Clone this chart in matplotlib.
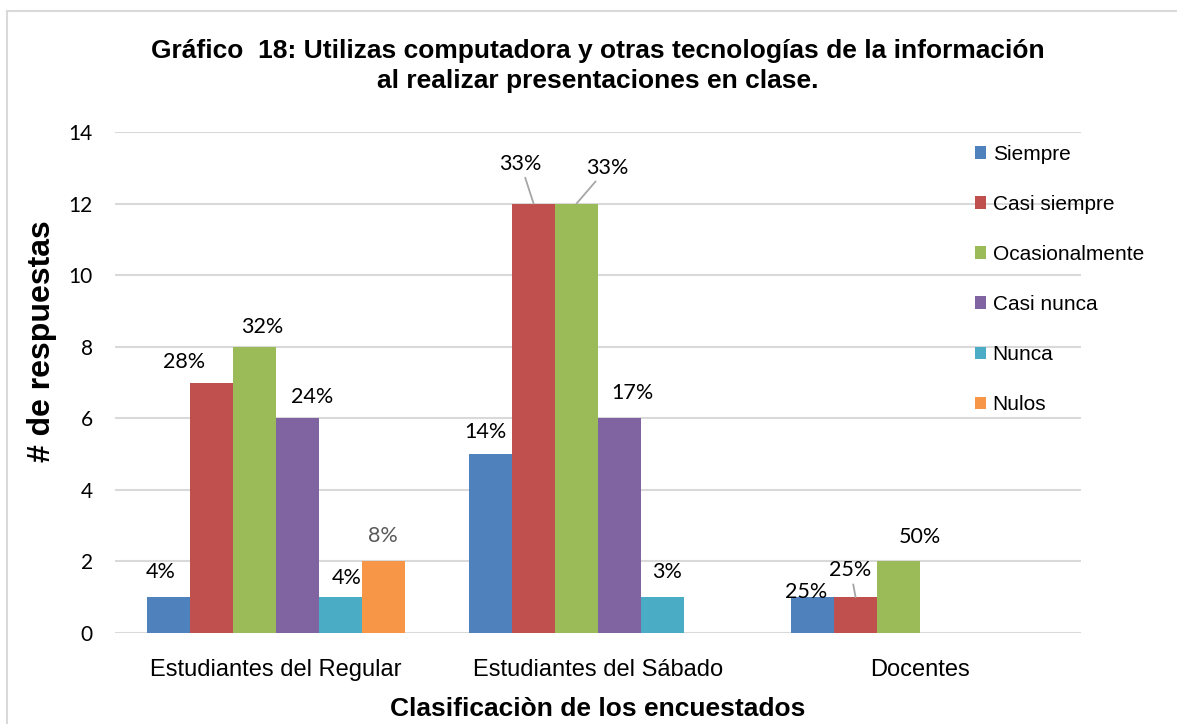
import matplotlib
matplotlib.use("Agg")
import matplotlib.pyplot as plt
import numpy as np
from matplotlib.lines import Line2D

categories = ["Estudiantes del Regular", "Estudiantes del Sábado", "Docentes"]
series = ["Siempre", "Casi siempre", "Ocasionalmente", "Casi nunca", "Nunca", "Nulos"]
values = {
    "Siempre":        [1, 5, 1],
    "Casi siempre":   [7, 12, 1],
    "Ocasionalmente": [8, 12, 2],
    "Casi nunca":     [6, 6, 0],
    "Nunca":          [1, 1, 0],
    "Nulos":          [2, 0, 0],
}
pct_labels = {
    "Siempre":        ["4%", "14%", "25%"],
    "Casi siempre":   ["28%", "33%", "25%"],
    "Ocasionalmente": ["32%", "33%", "50%"],
    "Casi nunca":     ["24%", "17%", None],
    "Nunca":          ["4%", "3%", None],
    "Nulos":          ["8%", None, None],
}
colors = ["#4F81BD", "#C0504D", "#9BBB59", "#8064A2", "#4BACC6", "#F79646"]
yticks = [0, 2, 4, 6, 8, 10, 12, 14]

# label offsets in pixels (dx, dy) from bar-top centre; leader line flag
label_off = {
    "Siempre":        [(-8, 25, False), (-5, 22, False), (-7, 5, False)],
    "Casi siempre":   [(-28, 21, False), (-13, 40, True), (-5, 27, True)],
    "Ocasionalmente": [(8, 20, False), (31, 36, True), (21, 24, False)],
    "Casi nunca":     [(15, 21, False), (13, 25, False), None],
    "Nunca":          [(6, 19, False), (5, 25, False), None],
    "Nulos":          [(0, 25, False), None, None],
}

W, H = 1177, 724
fig = plt.figure(figsize=(W / 100, H / 100), dpi=100)
ax = fig.add_axes([115 / W, (H - 633) / H, (1081 - 115) / W, (633 - 132) / H])

x = np.arange(len(categories))
n = len(series)
bw = 0.8 / n
for j, s in enumerate(series):
    xs = x + (j - (n - 1) / 2) * bw
    ax.bar(xs, values[s], width=bw, color=colors[j], label=s, zorder=3, edgecolor="none")
    for i, lab in enumerate(pct_labels[s]):
        if lab is None:
            continue
        dx, dy, leader = label_off[s][i]
        col = "#595959" if s == "Nulos" else "black"
        kw = {}
        if leader:
            kw["arrowprops"] = dict(arrowstyle="-", color="#a6a6a6", lw=1.3, shrinkA=1, shrinkB=0)
        ax.annotate(lab, xy=(xs[i], values[s][i]), xytext=(dx * 0.72, dy * 0.72),
                    textcoords="offset points", ha="center", va="center",
                    fontsize=15.5, family="Lato", color=col, zorder=5, **kw)

ax.set_xlim(-0.5, len(categories) - 0.5)
ax.set_ylim(0, 14)
ax.set_yticks(yticks)
ax.set_yticklabels([str(v) for v in yticks], fontsize=15, family="Lato")
ax.set_xticks(x)
ax.set_xticklabels(categories, fontsize=17, family="Liberation Sans")
ax.tick_params(axis="y", length=0, pad=16)
ax.tick_params(axis="x", length=0, pad=18.5)
ax.grid(axis="y", color="#d9d9d9", lw=1.5, zorder=0)
ax.set_axisbelow(True)
for sp in ax.spines.values():
    sp.set_visible(False)

ax.set_ylabel("# de respuestas", fontsize=23, fontweight="bold", family="Liberation Sans")
ax.yaxis.set_label_coords((42 - 115) / 966, (633 - 341) / 501)
ax.yaxis.label.set_va("center")
ax.set_xlabel("Clasificaciòn de los encuestados", fontsize=19, fontweight="bold",
              family="Liberation Sans", labelpad=12)

fig.text(598 / W, 1 - 66 / H,
         "Gráfico  18: Utilizas computadora y otras tecnologías de la información\nal realizar presentaciones en clase.",
         ha="center", va="center", fontsize=19, fontweight="bold", family="Liberation Sans",
         linespacing=1.3)

leg = ax.legend(loc="upper left", bbox_to_anchor=(975 / W, 1 - 145 / H), bbox_transform=fig.transFigure,
                frameon=False, prop={"family": "Liberation Sans", "size": 15},
                handlelength=0.55, handleheight=0.55, handletextpad=0.3, labelspacing=1.49,
                borderpad=0, borderaxespad=0)

# outer border
fig.add_artist(Line2D([7 / W, 7 / W], [0, 1 - 11 / H], transform=fig.transFigure, color="#d9d9d9", lw=1.5))
fig.add_artist(Line2D([7 / W, 1], [1 - 11 / H, 1 - 11 / H], transform=fig.transFigure, color="#d9d9d9", lw=1.5))

fig.savefig("out.png", dpi=100)
